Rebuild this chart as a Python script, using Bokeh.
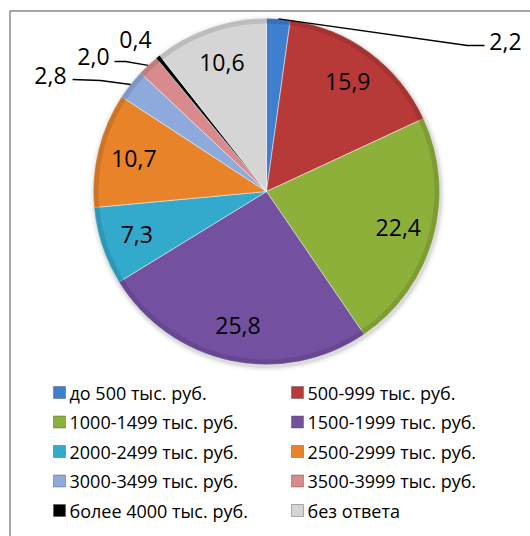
import math
from bokeh.plotting import figure
from bokeh.models import Range1d, ColumnDataSource
from bokeh.embed import file_html
from bokeh.resources import INLINE
from bokeh.core.properties import value

categories = ["до 500 тыс. руб.", "500-999 тыс. руб.", "1000-1499 тыс. руб.",
              "1500-1999 тыс. руб.", "2000-2499 тыс. руб.", "2500-2999 тыс. руб.",
              "3000-3499 тыс. руб.", "3500-3999 тыс. руб.", "более 4000 тыс. руб.",
              "без ответа"]
shares = [2.2, 15.9, 22.4, 25.8, 7.3, 10.7, 2.8, 2.0, 0.4, 10.6]
value_labels = ["2,2", "15,9", "22,4", "25,8", "7,3", "10,7", "2,8", "2,0", "0,4", "10,6"]
colors = ["#3F7FD0", "#B83A38", "#8DB03A", "#7450A0", "#33AACC",
          "#E8832A", "#8EAADC", "#D88A8C", "#000000", "#D5D5D5"]

FONT = "Open Sans"
W, H = 530, 536


def Y(img_y):
    return H - img_y


def darker(hx, f=0.8):
    r, g, b = int(hx[1:3], 16), int(hx[3:5], 16), int(hx[5:7], 16)
    return "#%02x%02x%02x" % (int(r * f), int(g * f), int(b * f))


p = figure(width=W, height=H, x_range=Range1d(0, W), y_range=Range1d(0, H),
           output_backend="svg", toolbar_location=None, min_border=0)
p.axis.visible = False
p.grid.visible = False
p.outline_line_color = None
p.background_fill_color = "white"
p.border_fill_color = "white"

# chart frame (left and top edges visible; right/bottom outside the picture)
p.quad(left=[9.5], right=[560], top=[Y(10.5)], bottom=[Y(570)],
       fill_color=None, line_color="#8C8C8C", line_width=1.5)

CX, CY, R = 266, Y(191), 173
total = sum(shares)
starts, ends, mids = [], [], []
cum = 0.0
for s in shares:
    a0 = math.pi / 2 - 2 * math.pi * cum / total
    cum += s
    a1 = math.pi / 2 - 2 * math.pi * cum / total
    starts.append(a0)
    ends.append(a1)
    mids.append((a0 + a1) / 2)

# soft shadow
for k, al in [(5, 0.06), (3, 0.10), (1.5, 0.14)]:
    p.circle(x=[CX + 1], y=[CY - 2], radius=R + k, fill_color="#808080",
             fill_alpha=al, line_color=None)

src = ColumnDataSource(dict(start=starts, end=ends, color=colors,
                            rim=[darker(c, 0.82) for c in colors]))
p.wedge(x=CX, y=CY, radius=R, start_angle="start", end_angle="end",
        direction="clock", fill_color="color", line_color="#ffffff",
        line_alpha=0.6, line_width=0.8, source=src)
# bevel rim
p.annular_wedge(x=CX, y=CY, inner_radius=R - 5, outer_radius=R,
                start_angle="start", end_angle="end", direction="clock",
                fill_color="rim", fill_alpha=0.6, line_color=None, source=src)

# inside labels
inside = [1, 2, 3, 4, 5, 9]
lx = [CX + 0.79 * R * math.cos(mids[i]) for i in inside]
ly = [CY + 0.79 * R * math.sin(mids[i]) for i in inside]
p.text(x=lx, y=ly, text=[value_labels[i] for i in inside], text_align="center",
       text_baseline="middle", text_font=value(FONT), text_font_size="23px",
       text_color="black")

# outside labels with leader lines (layout in picture pixels)
outside = {
    0: dict(pos=(505, 41), path=[(467, 45), (484, 45)]),
    6: dict(pos=(50, 75), path=[(100, 80), (72, 79)]),
    7: dict(pos=(93, 56), path=[(125, 61), (114, 61)]),
    8: dict(pos=(135, 39), path=[]),
}
for i, lay in outside.items():
    tx, ty = lay["pos"]
    p.text(x=[tx], y=[Y(ty)], text=[value_labels[i]], text_align="center",
           text_baseline="middle", text_font=value(FONT), text_font_size="23px",
           text_color="black")
    if lay["path"]:
        ex = CX + R * math.cos(mids[i])
        ey = CY + R * math.sin(mids[i])
        xs = [ex] + [q[0] for q in lay["path"]]
        ys = [ey] + [Y(q[1]) for q in lay["path"]]
        p.line(x=xs, y=ys, line_color="black", line_width=1.3)

# legend (two columns)
col_sq_x = [59, 297]
row_y0, row_dy = 392, 29.5
sq_x, sq_y, tx_x, tx_y = [], [], [], []
for i, c in enumerate(categories):
    col, row = i % 2, i // 2
    yy = Y(row_y0 + row * row_dy)
    sq_x.append(col_sq_x[col])
    sq_y.append(yy)
    tx_x.append(col_sq_x[col] + 10)
    tx_y.append(yy)
p.rect(x=sq_x, y=sq_y, width=12, height=12, fill_color=colors,
       line_color="#404040", line_alpha=0.5, line_width=0.8)
p.text(x=tx_x, y=tx_y, text=categories, text_align="left", text_baseline="middle",
       text_font=value(FONT), text_font_size="18px", text_color="black")

open("out.html", "w").write(file_html(p, INLINE))
